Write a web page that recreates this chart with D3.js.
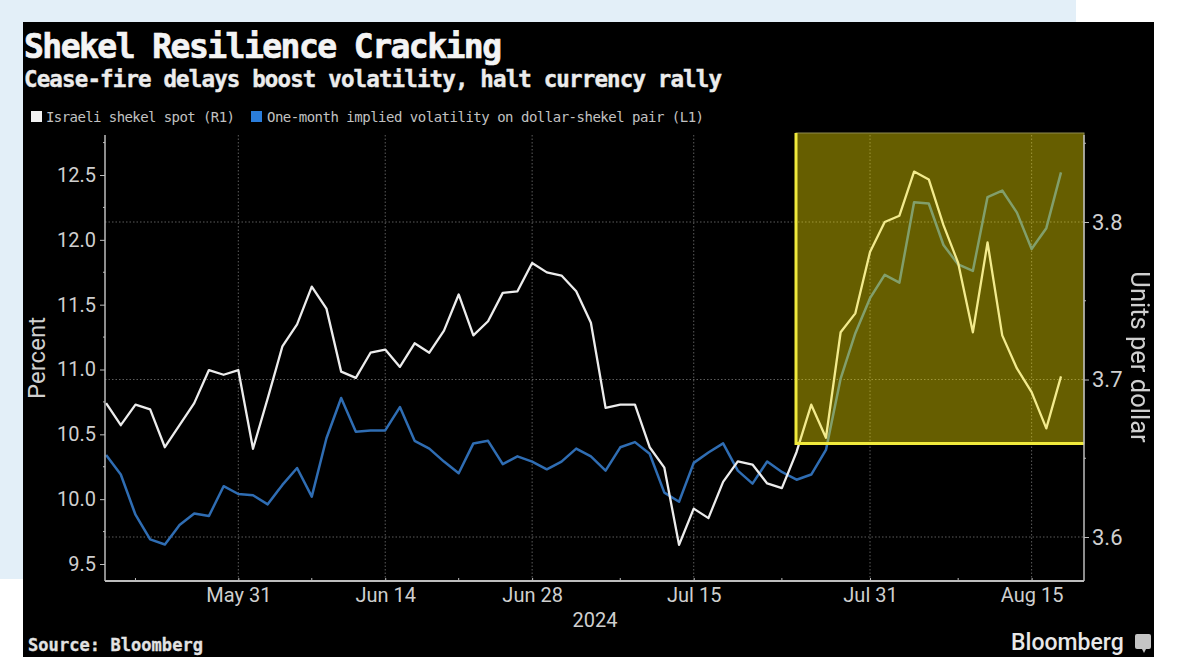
<!DOCTYPE html>
<html><head><meta charset="utf-8">
<style>
html,body{margin:0;padding:0;background:#fff;overflow:hidden}
svg{display:block}
.mono{font-family:"DejaVu Sans Mono",monospace}
.tick-label{font-family:Roboto,sans-serif;font-size:20px;fill:#cfcfcf}
</style>
<script src="https://cdn.jsdelivr.net/npm/d3@7/dist/d3.min.js"></script>
</head><body>
<svg id="c" width="1177" height="658"></svg>
<script>
const dates = ["May 20","May 21","May 22","May 23","May 24","May 27","May 28","May 29","May 30","May 31",
"Jun 3","Jun 4","Jun 5","Jun 6","Jun 7","Jun 10","Jun 11","Jun 12","Jun 13","Jun 14",
"Jun 17","Jun 18","Jun 19","Jun 20","Jun 21","Jun 24","Jun 25","Jun 26","Jun 27","Jun 28",
"Jul 1","Jul 2","Jul 3","Jul 4","Jul 5","Jul 8","Jul 9","Jul 10","Jul 11","Jul 12",
"Jul 15","Jul 16","Jul 17","Jul 18","Jul 19","Jul 22","Jul 23","Jul 24","Jul 25","Jul 26",
"Jul 29","Jul 30","Jul 31","Aug 1","Aug 2","Aug 5","Aug 6","Aug 7","Aug 8","Aug 9",
"Aug 12","Aug 13","Aug 14","Aug 15","Aug 16","Aug 19"];
const shekelSpot = [3.685,3.671,3.684,3.681,3.657,3.671,3.685,3.706,3.703,3.706,
3.656,3.688,3.721,3.735,3.759,3.745,3.705,3.701,3.717,3.719,
3.708,3.723,3.717,3.731,3.754,3.728,3.737,3.755,3.756,3.774,
3.768,3.766,3.756,3.736,3.682,3.684,3.684,3.657,3.644,3.595,
3.618,3.612,3.635,3.648,3.646,3.634,3.631,3.654,3.684,3.663,
3.730,3.742,3.781,3.800,3.804,3.832,3.827,3.798,3.774,3.730,
3.787,3.728,3.707,3.692,3.669,3.702];
const impliedVol = [10.34,10.19,9.88,9.69,9.65,9.80,9.89,9.87,10.10,10.04,
10.03,9.96,10.11,10.24,10.02,10.47,10.78,10.52,10.53,10.53,
10.71,10.45,10.39,10.29,10.20,10.43,10.45,10.27,10.33,10.29,
10.23,10.29,10.39,10.33,10.22,10.40,10.44,10.35,10.05,9.98,
10.28,10.36,10.43,10.22,10.12,10.29,10.21,10.15,10.19,10.38,
10.93,11.28,11.55,11.73,11.67,12.29,12.28,11.96,11.81,11.76,
12.33,12.38,12.21,11.93,12.09,12.52];
const leftTicks = [9.5,10,10.5,11,11.5,12,12.5];
const leftMinor = [9.75,10.25,10.75,11.25,11.75,12.25,12.75];
const rightTicks = [3.6,3.7,3.8];
const rightMinor = [3.65,3.75,3.85];
const majorDates = ["May 31","Jun 14","Jun 28","Jul 15","Jul 31","Aug 15"];
const minorDates = ["May 22","Jun 7","Jun 21","Jul 8","Jul 23","Aug 8"];

const svg = d3.select("#c");
const plot = {l:105, r:1084, t:135, b:581};

svg.append("rect").attr("x",0).attr("y",0).attr("width",1076).attr("height",579).attr("fill","#e3eff8");
const root = svg.append("g").style("filter","blur(0.7px)");
root.append("rect").attr("x",23).attr("y",22).attr("width",1131).attr("height",635).attr("fill","#000");

const x = d3.scalePoint().domain(dates).range([106.1,1061]);
const yL = d3.scaleLinear().domain([9.5,12.5]).range([564,175]);
const yR = d3.scaleLinear().domain([3.6,3.8]).range([537,222]);

const grid = root.append("g").attr("stroke","#5c5c5c").attr("stroke-width",1).attr("stroke-dasharray","1.5 2");
grid.selectAll("line.v").data(majorDates).join("line").attr("class","v")
  .attr("x1",d=>x(d)).attr("x2",d=>x(d)).attr("y1",plot.t).attr("y2",plot.b);
grid.selectAll("line.h").data(rightTicks).join("line").attr("class","h")
  .attr("x1",plot.l).attr("x2",plot.r).attr("y1",d=>yR(d)).attr("y2",d=>yR(d));

const lineFor = (s,ys)=>d3.line().x((d,i)=>x(dates[i])).y(d=>ys(d))(s);
root.append("path").attr("d",lineFor(impliedVol,yL)).attr("fill","none").attr("stroke","#2f6db3").attr("stroke-width",2.5).attr("stroke-linejoin","round");
root.append("path").attr("d",lineFor(shekelSpot,yR)).attr("fill","none").attr("stroke","#ececec").attr("stroke-width",2.3).attr("stroke-linejoin","round");

const hx = 796;
const hb = 443.5;
root.append("rect").attr("x",hx).attr("y",133).attr("width",plot.r-hx).attr("height",hb-133)
  .attr("fill","#ffeb00").attr("fill-opacity",0.4).attr("stroke","#8d8a50").attr("stroke-width",1);
root.append("line").attr("x1",hx).attr("x2",hx).attr("y1",133).attr("y2",hb+1.5).attr("stroke","#f0ea3c").attr("stroke-width",3);
root.append("line").attr("x1",hx).attr("x2",plot.r).attr("y1",hb).attr("y2",hb).attr("stroke","#f0ea3c").attr("stroke-width",3);

const axisStyle = g=>{g.selectAll("path.domain").attr("stroke","#bdbdbd");g.selectAll("line").attr("stroke","#bdbdbd");};
const bottom = root.append("g").attr("transform",`translate(0,${plot.b})`);
bottom.call(d3.axisBottom(x).tickValues(majorDates).tickSize(-3).tickPadding(8).tickSizeOuter(0));
bottom.select("path.domain").attr("d",`M${plot.l},0H${plot.r}`).attr("stroke-width",2.2);
bottom.selectAll("text").attr("class","tick-label").attr("dy","0.9em").attr("y",3);
bottom.selectAll(".minor").data(minorDates).join("line").attr("class","minor")
  .attr("x1",d=>x(d)).attr("x2",d=>x(d)).attr("y1",0).attr("y2",-3);
axisStyle(bottom);

const left = root.append("g").attr("transform",`translate(${plot.l},0)`);
left.call(d3.axisLeft(yL).tickValues(leftTicks).tickFormat(d3.format(".1f")).tickSize(5).tickPadding(4).tickSizeOuter(0));
left.select("path.domain").attr("d",`M0,${plot.t}V${plot.b}`).attr("stroke-width",1.5);
left.selectAll("text").attr("class","tick-label");
left.selectAll(".minor").data(leftMinor).join("line").attr("class","minor")
  .attr("x1",-2).attr("x2",0).attr("y1",d=>yL(d)).attr("y2",d=>yL(d));
axisStyle(left);

const right = root.append("g").attr("transform",`translate(${plot.r},0)`);
right.call(d3.axisRight(yR).tickValues(rightTicks).tickFormat(d3.format(".1f")).tickSize(5).tickPadding(3).tickSizeOuter(0));
right.select("path.domain").attr("d",`M0,${plot.t}V${plot.b}`).attr("stroke-width",1.5);
right.selectAll("text").attr("class","tick-label").style("font-size","22px");
right.selectAll(".minor").data(rightMinor).join("line").attr("class","minor")
  .attr("x1",0).attr("x2",2).attr("y1",d=>yR(d)).attr("y2",d=>yR(d));
axisStyle(right);

const T=(s,xp,yp,size,fill,cls,weight,len)=>{
  const t=root.append("text").attr("x",xp).attr("y",yp).attr("font-size",size).attr("fill",fill)
    .attr("class",cls||null).attr("font-weight",weight||null).text(s);
  if(len) t.attr("textLength",len).attr("lengthAdjust","spacing");
  return t;
};
T("Shekel Resilience Cracking",24,58,33,"#f4f4f4","mono","bold",478).attr("stroke","#f4f4f4").attr("stroke-width",0.7);
T("Cease-fire delays boost volatility, halt currency rally",24,87,22.5,"#ececec","mono","bold",698).attr("stroke","#ececec").attr("stroke-width",0.4);
T("Israeli shekel spot (R1)",46,122,14,"#c2c2c2","mono",null,189);
T("One-month implied volatility on dollar-shekel pair (L1)",267,122,14,"#c2c2c2","mono",null,437);
root.append("rect").attr("x",31).attr("y",111).attr("width",11).attr("height",11).attr("fill","#f2f2f2");
root.append("rect").attr("x",251).attr("y",111).attr("width",11).attr("height",11).attr("fill","#2a7ddb");

root.append("text").attr("class","tick-label").attr("text-anchor","middle").attr("x",595).attr("y",627).text("2024");
root.append("text").attr("class","tick-label").attr("text-anchor","middle").style("font-size","24px")
  .attr("transform","translate(45,358) rotate(-90)").text("Percent");
root.append("text").attr("class","tick-label").attr("text-anchor","middle").style("font-size","25.5px")
  .attr("transform","translate(1131,357) rotate(90)").text("Units per dollar");

T("Source: Bloomberg",28,651,17,"#e2e2e2","mono","bold",175).attr("stroke","#e2e2e2").attr("stroke-width",0.3);
root.append("text").attr("x",1011).attr("y",650).attr("font-family","Roboto,sans-serif").attr("font-weight",500)
  .attr("font-size",23).attr("fill","#e8e8e8").text("Bloomberg");
root.append("rect").attr("x",1135).attr("y",634).attr("width",16).attr("height",15).attr("rx",2).attr("fill","#c4c4c4");
root.append("path").attr("d","M1142,649l2,4l2,-4z").attr("fill","#c4c4c4");
</script>
</body></html>
